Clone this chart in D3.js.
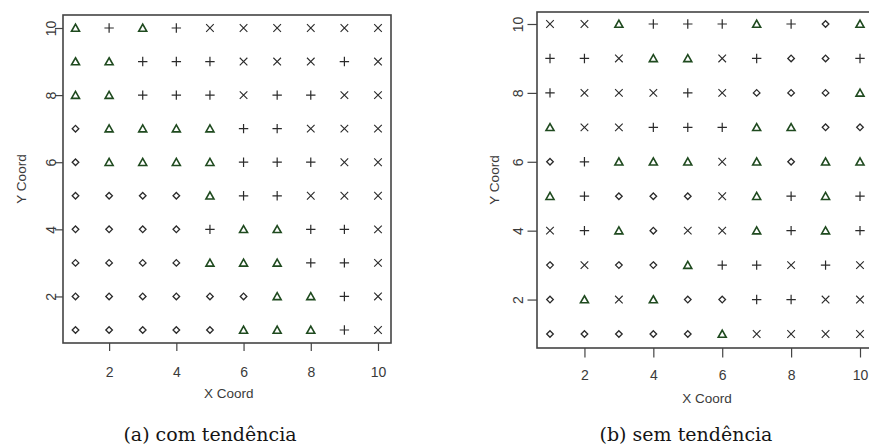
<!DOCTYPE html>
<html>
<head>
<meta charset="utf-8">
<script src="https://cdn.jsdelivr.net/npm/d3@7"></script>
<style>
  html, body { margin: 0; padding: 0; background: #fff; }
  svg { display: block; }
  .tick text { font-family: "Liberation Sans", Arial, sans-serif; font-size: 14px; fill: #3a3a3a; }
  .axis-title { font-family: "Liberation Sans", Arial, sans-serif; font-size: 13.5px; fill: #3a3a3a; }
  .caption { font-family: "DejaVu Serif", serif; font-size: 19px; fill: #151515; }
</style>
</head>
<body>
<svg id="chart" width="869" height="448"></svg>
<script>
// Grid coordinates of the sampled cells
const xCoords = [1, 2, 3, 4, 5, 6, 7, 8, 9, 10];
const yCoords = [10, 9, 8, 7, 6, 5, 4, 3, 2, 1];   // rows listed top to bottom
const tickValues = [2, 4, 6, 8, 10];

// Class of each cell: o = circle, t = triangle, p = plus, x = cross
// Rows follow yCoords, columns follow xCoords.
const classesTrend = [
  ["t","p","t","p","x","x","x","x","x","x"],
  ["t","t","p","p","p","x","x","x","p","x"],
  ["t","t","p","p","p","x","p","p","x","x"],
  ["o","t","t","t","t","p","p","x","x","x"],
  ["o","t","t","t","t","p","p","p","x","x"],
  ["o","o","o","o","t","p","p","x","x","x"],
  ["o","o","o","o","p","t","t","p","p","x"],
  ["o","o","o","o","t","t","t","p","p","x"],
  ["o","o","o","o","o","o","t","t","p","x"],
  ["o","o","o","o","o","t","t","t","p","x"]
];
const classesNoTrend = [
  ["x","x","t","p","p","p","t","p","o","t"],
  ["p","p","x","t","t","x","p","o","o","p"],
  ["p","x","x","x","p","x","o","o","o","t"],
  ["t","x","x","p","p","p","t","t","o","o"],
  ["o","p","t","t","t","x","t","o","t","t"],
  ["t","p","o","o","o","x","t","p","t","p"],
  ["x","p","t","o","x","x","t","p","t","p"],
  ["o","x","o","o","t","p","p","x","p","x"],
  ["o","t","x","t","o","o","p","p","x","x"],
  ["o","o","o","o","o","t","x","x","x","x"]
];
const captions = ["(a) com tendência", "(b) sem tendência"];

// Outline marker shapes; size is used as half-width in pixels
const shapes = {
  o: { draw(c, r) { c.moveTo(0, -r); c.lineTo(r, 0); c.lineTo(0, r); c.lineTo(-r, 0); c.closePath(); } },
  t: { draw(c, r) { const h = r * 0.95; c.moveTo(0, -h); c.lineTo(r, h * 0.85); c.lineTo(-r, h * 0.85); c.closePath(); } },
  p: { draw(c, r) { c.moveTo(-r, 0); c.lineTo(r, 0); c.moveTo(0, -r); c.lineTo(0, r); } },
  x: { draw(c, r) { c.moveTo(-r, -r); c.lineTo(r, r); c.moveTo(-r, r); c.lineTo(r, -r); } }
};
const shapeSize = { o: 3.3, t: 4.0, p: 4.7, x: 3.8 };
const shapeColor = { o: "#2a2a2a", t: "#1f4a1f", p: "#2a2a2a", x: "#2a2a2a" };
const shapeWidth = { o: 1.3, t: 1.6, p: 1.2, x: 1.1 };

const svg = d3.select("#chart");

const panels = [
  { grid: classesTrend, frame: [63, 15, 391, 343], xr: [75.5, 378], yr: [330, 28],
    tick: 8, xPad: 16, yLab: 11.5, yTitleX: 21, xTitleY: 393, caption: captions[0], capX: 210 },
  { grid: classesNoTrend, frame: [537, 12, 872, 348], xr: [550, 860], yr: [334, 24],
    tick: 9.5, xPad: 13, yLab: 19, yTitleX: 494, xTitleY: 398, caption: captions[1], capX: 686 }
];

panels.forEach(p => {
  const g = svg.append("g");
  const x = d3.scaleLinear().domain([1, 10]).range(p.xr);
  const y = d3.scaleLinear().domain([1, 10]).range(p.yr);
  const [fx0, fy0, fx1, fy1] = p.frame;

  // x axis
  const xAxis = g.append("g")
    .attr("transform", `translate(0,${fy1})`)
    .call(d3.axisBottom(x).tickValues(tickValues).tickSize(p.tick).tickPadding(p.xPad).tickFormat(d3.format("d")));
  xAxis.select(".domain").remove();
  xAxis.selectAll(".tick line").attr("stroke", "#444").attr("stroke-width", 1.2);

  // y axis, labels turned parallel to the axis
  const yAxis = g.append("g")
    .attr("transform", `translate(${fx0},0)`)
    .call(d3.axisLeft(y).tickValues(tickValues).tickSize(p.tick).tickFormat(d3.format("d")));
  yAxis.select(".domain").remove();
  yAxis.selectAll(".tick line").attr("stroke", "#444").attr("stroke-width", 1.2);
  yAxis.selectAll(".tick text")
    .attr("x", 0).attr("dx", null)
    .attr("text-anchor", "middle")
    .attr("transform", `translate(${-p.yLab},0) rotate(-90)`)
    .attr("dy", "0.35em");

  // plot frame
  g.append("rect")
    .attr("x", fx0).attr("y", fy0)
    .attr("width", fx1 - fx0).attr("height", fy1 - fy0)
    .attr("fill", "none").attr("stroke", "#444").attr("stroke-width", 1.6);

  // axis titles
  g.append("text").attr("class", "axis-title")
    .attr("x", (p.xr[0] + p.xr[1]) / 2 + 2).attr("y", p.xTitleY)
    .attr("text-anchor", "middle").attr("dy", "0.35em").text("X Coord");
  g.append("text").attr("class", "axis-title")
    .attr("transform", `translate(${p.yTitleX},${(fy0 + fy1) / 2}) rotate(-90)`)
    .attr("text-anchor", "middle").attr("dy", "0.35em").text("Y Coord");

  // markers
  const cells = [];
  p.grid.forEach((row, i) => row.forEach((c, j) => cells.push({ x: xCoords[j], y: yCoords[i], c })));
  g.append("g").selectAll("path").data(cells).join("path")
    .attr("transform", d => `translate(${x(d.x)},${y(d.y)})`)
    .attr("d", d => d3.symbol().type(shapes[d.c]).size(shapeSize[d.c])())
    .attr("fill", "none")
    .attr("stroke", d => shapeColor[d.c])
    .attr("stroke-width", d => shapeWidth[d.c]);

  // caption
  svg.append("text").attr("class", "caption")
    .attr("x", p.capX).attr("y", 441)
    .attr("text-anchor", "middle").text(p.caption);
});
</script>
</body>
</html>
